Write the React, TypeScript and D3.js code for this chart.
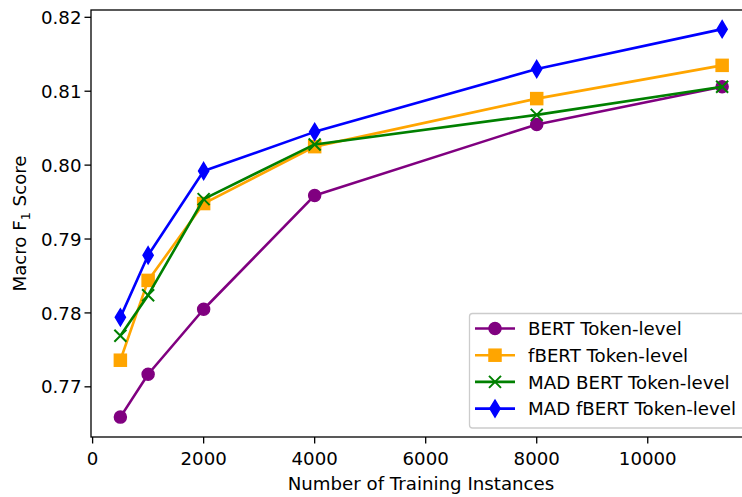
import React from "react";
import * as d3 from "d3";

const sizes = [500, 1000, 2000, 4000, 8000, 11340];
const bertToken = [0.7659, 0.7717, 0.7805, 0.7959, 0.8055, 0.8106];
const fbertToken = [0.7736, 0.7844, 0.7948, 0.8025, 0.809, 0.8135];
const madBertToken = [0.7769, 0.7824, 0.7954, 0.8028, 0.8068, 0.8106];
const madFbertToken = [0.7794, 0.7878, 0.7992, 0.8045, 0.813, 0.8184];
const xTicks = [0, 2000, 4000, 6000, 8000, 10000];
const yTicks = [0.77, 0.78, 0.79, 0.8, 0.81, 0.82];

const series = [
  { name: "BERT Token-level", values: bertToken, color: "#800080", marker: "o" },
  { name: "fBERT Token-level", values: fbertToken, color: "#FFA500", marker: "s" },
  { name: "MAD BERT Token-level", values: madBertToken, color: "#008000", marker: "x" },
  { name: "MAD fBERT Token-level", values: madFbertToken, color: "#0000FF", marker: "d" },
];

const W = 742;
const H = 497;
const left = 91;
const right = 751;
const top = 10;
const bottom = 437;
const FS = 18.2;
const font = "'DejaVu Sans', sans-serif";
const MS = 12;

const Marker = ({ type, x, y, color }) => {
  if (type === "o")
    return <circle cx={x} cy={y} r={MS / 2} fill={color} stroke={color} strokeWidth={1.5} />;
  if (type === "s")
    return (
      <rect x={x - MS / 2} y={y - MS / 2} width={MS} height={MS} fill={color} stroke={color} strokeWidth={1.5} />
    );
  if (type === "x") {
    const h = MS / 2;
    return (
      <path
        d={`M${x - h},${y - h}L${x + h},${y + h}M${x - h},${y + h}L${x + h},${y - h}`}
        stroke={color}
        strokeWidth={2}
        fill="none"
      />
    );
  }
  // thin diamond
  const hh = (MS * Math.SQRT2) / 2;
  const hw = hh * 0.6;
  return (
    <path
      d={`M${x},${y - hh}L${x + hw},${y}L${x},${y + hh}L${x - hw},${y}Z`}
      fill={color}
      stroke={color}
      strokeWidth={1.5}
    />
  );
};

export default function App() {
  const x = d3.scaleLinear().domain([-29, 11860]).range([left, right]);
  const y = d3.scaleLinear().domain([0.76321, 0.82099]).range([bottom, top]);
  const line = d3
    .line<number>()
    .x((d, i) => x(sizes[i]))
    .y((d) => y(d));

  const legendX = 469.5;
  const legendY = 313.5;
  const rowH = 26.7;
  const capH = FS * 0.729;

  return (
    <svg
      width={W}
      height={H}
      style={{ position: "absolute", left: 0, top: 0, background: "#fff" }}
      fontFamily={font}
    >
      {series.map((s) => (
        <g key={s.name}>
          <path d={line(s.values) || ""} fill="none" stroke={s.color} strokeWidth={2.6} strokeLinejoin="round" />
          {s.values.map((v, i) => (
            <Marker key={i} type={s.marker} x={x(sizes[i])} y={y(v)} color={s.color} />
          ))}
        </g>
      ))}

      {/* spines */}
      <rect x={left} y={top} width={right - left} height={bottom - top} fill="none" stroke="#000" strokeWidth={1.3} />

      {/* x axis */}
      {xTicks.map((t) => (
        <g key={t} transform={`translate(${x(t)},${bottom})`}>
          <line y2={6.5} stroke="#000" strokeWidth={1.3} />
          <text y={14.7 + capH} textAnchor="middle" fontSize={FS} fill="#000">
            {t}
          </text>
        </g>
      ))}
      <text x={(left + right) / 2} y={490} textAnchor="middle" fontSize={FS} fill="#000">
        Number of Training Instances
      </text>

      {/* y axis */}
      {yTicks.map((t) => (
        <g key={t} transform={`translate(${left},${y(t)})`}>
          <line x2={-6.5} stroke="#000" strokeWidth={1.3} />
          <text x={-9.5} dy={capH / 2} textAnchor="end" fontSize={FS} fill="#000">
            {t.toFixed(2)}
          </text>
        </g>
      ))}
      <text transform={`translate(25.5,${(top + bottom) / 2}) rotate(-90)`} textAnchor="middle" fontSize={FS} fill="#000">
        Macro F<tspan dy={4} fontSize={FS * 0.7}>1</tspan>
        <tspan dy={-4}> Score</tspan>
      </text>

      {/* legend */}
      <rect
        x={legendX}
        y={legendY}
        width={280}
        height={114.5}
        rx={3}
        fill="#fff"
        fillOpacity={0.8}
        stroke="#cccccc"
        strokeWidth={1.3}
      />
      {series.map((s, i) => {
        const cy = legendY + 15 + i * rowH;
        return (
          <g key={s.name}>
            <line x1={475} x2={515} y1={cy} y2={cy} stroke={s.color} strokeWidth={2.6} />
            <Marker type={s.marker} x={495} y={cy} color={s.color} />
            <text x={528} y={cy + capH / 2} fontSize={FS} fill="#000">
              {s.name}
            </text>
          </g>
        );
      })}
    </svg>
  );
}
